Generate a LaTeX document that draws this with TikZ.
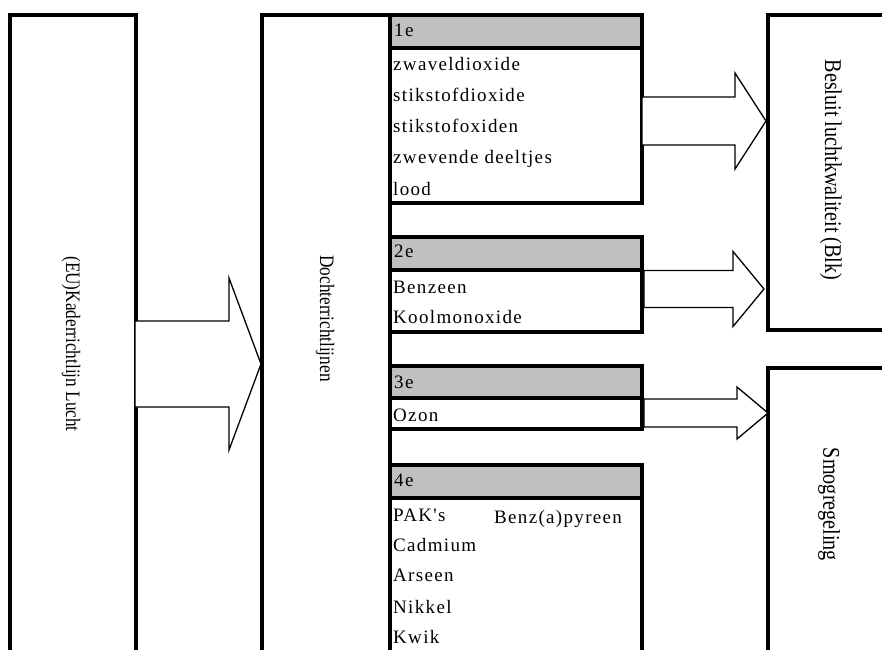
\documentclass[tikz,border=0pt]{standalone}
\usepackage{fontspec}
\setmainfont{Liberation Serif}
\newfontfamily\stoffont[LetterSpace=7]{Liberation Serif}
\newfontfamily\titelfont[FakeStretch=0.84]{Liberation Serif}
\definecolor{kopgrijs}{RGB}{192,192,192}
\tikzset{
  rand/.style={line width=4pt},
  stof/.style={anchor=base west,inner sep=0pt,font=\stoffont\fontsize{19}{22}\selectfont},
  titel/.style={rotate=-90,inner sep=0pt,font=\titelfont\fontsize{20.5}{24}\selectfont},
  grotetitel/.style={rotate=-90,inner sep=0pt,font=\titelfont\fontsize{24}{28}\selectfont},
  blokpijl/.style={draw,fill=white,line width=1.3pt,line join=miter}
}
\begin{document}
\begin{tikzpicture}[x=1pt,y=-1pt]
\useasboundingbox (0,0) rectangle (882,649);

% kaderrichtlijn
\draw[rand] (10,660) -- (10,15) -- (135.5,15) -- (135.5,660);
\node[titel] (kader) at (71,344) {(EU)Kaderrichtlijn Lucht};

% dochterrichtlijnen
\draw[rand] (262,660) -- (262,15) -- (389.5,15) -- (389.5,660);
\node[titel] (dochter) at (325,318.5) {Dochterrichtlijnen};

% 1e
\fill[kopgrijs] (389.5,15) rectangle (642,47.5);
\draw[rand] (389.5,15) rectangle (642,202.5);
\draw[rand] (389.5,47.5) -- (642,47.5);
\node[stof] (k1) at (394,36.7) {1e};
\node[stof] (so2) at (393,70) {zwaveldioxide};
\node[stof] (no2) at (393,101) {stikstofdioxide};
\node[stof] (nox) at (393,132) {stikstofoxiden};
\node[stof] (pm) at (393,163.5) {zwevende deeltjes};
\node[stof] (pb) at (393,195) {lood};

% 2e
\fill[kopgrijs] (389.5,236.5) rectangle (642,269.5);
\draw[rand] (389.5,236.5) rectangle (642,331.5);
\draw[rand] (389.5,269.5) -- (642,269.5);
\node[stof] (k2) at (394,257.7) {2e};
\node[stof] (bz) at (393,293.3) {Benzeen};
\node[stof] (co) at (393,323.3) {Koolmonoxide};

% 3e
\fill[kopgrijs] (389.5,365.5) rectangle (642,397.5);
\draw[rand] (389.5,365.5) rectangle (642,429);
\draw[rand] (389.5,397.5) -- (642,397.5);
\node[stof] (k3) at (394,388.3) {3e};
\node[stof] (o3) at (393,421.7) {Ozon};

% 4e
\fill[kopgrijs] (389.5,464.5) rectangle (642,497.5);
\draw[rand] (389.5,660) -- (389.5,464.5) -- (642,464.5) -- (642,660);
\draw[rand] (389.5,497.5) -- (642,497.5);
\node[stof] (k4) at (394,486.7) {4e};
\node[stof] (pak) at (393,521.7) {PAK's};
\node[stof] (bap) at (494,523) {Benz(a)pyreen};
\node[stof] (cd) at (393,551.7) {Cadmium};
\node[stof] (as) at (393,581.7) {Arseen};
\node[stof] (ni) at (393,613.3) {Nikkel};
\node[stof] (hg) at (393,643.3) {Kwik};

% besluit en smogregeling
\draw[rand] (890,15) -- (768,15) -- (768,330) -- (890,330);
\node[grotetitel] (blk) at (831,170) {Besluit luchtkwaliteit (Blk)};
\draw[rand] (890,367.5) -- (768,367.5) -- (768,660);
\node[grotetitel] (smog) at (829,504.5) {Smogregeling};

% pijlen
\coordinate (kaderR) at (135,364);
\coordinate (dochterL) at (261,364);
\draw[blokpijl] (kaderR) ++(0,-43) -- ++(94,0) -- ++(0,-43) -- (dochterL)
  -- ++(-32,86) -- ++(0,-43) -- ++(-94,0) -- cycle;

\coordinate (een) at (642,121);
\coordinate (blkA) at (766,121);
\draw[blokpijl] (een) ++(0,-24) -- ++(93,0) -- ++(0,-24) -- (blkA)
  -- ++(-31,48) -- ++(0,-24) -- ++(-93,0) -- cycle;

\coordinate (twee) at (644,289);
\coordinate (blkB) at (764,289);
\draw[blokpijl] (twee) ++(0,-18.5) -- ++(89,0) -- ++(0,-19) -- (blkB)
  -- ++(-31,37.5) -- ++(0,-19) -- ++(-89,0) -- cycle;

\coordinate (drie) at (644,413);
\coordinate (smogA) at (768,413);
\draw[blokpijl] (drie) ++(0,-14) -- ++(93,0) -- ++(0,-12) -- (smogA)
  -- ++(-31,26) -- ++(0,-12) -- ++(-93,0) -- cycle;
\end{tikzpicture}
\end{document}
